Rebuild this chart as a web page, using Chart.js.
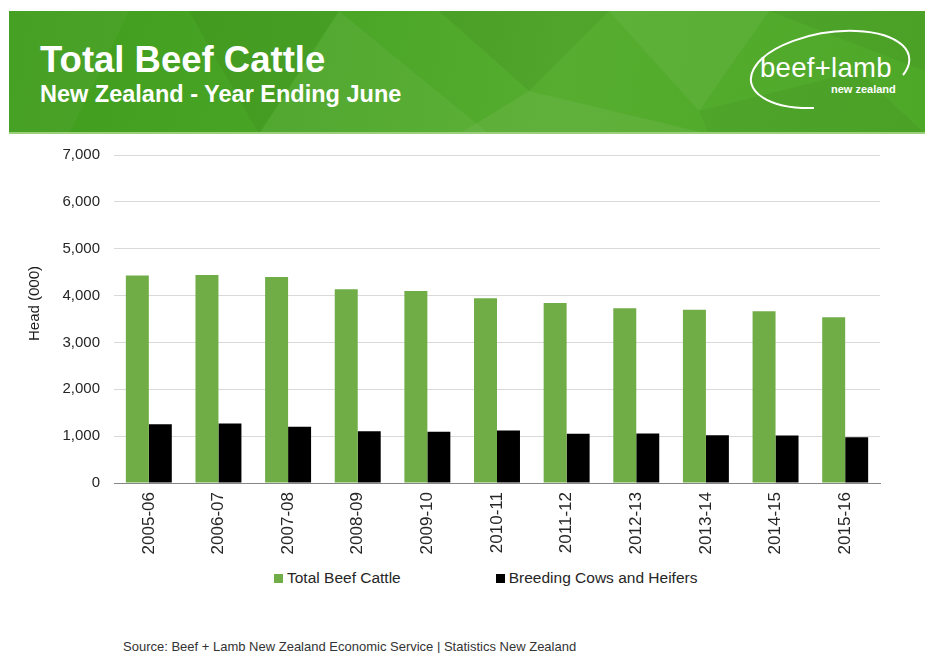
<!DOCTYPE html>
<html>
<head>
<meta charset="utf-8">
<script src="https://cdn.jsdelivr.net/npm/chart.js@4.4.1/dist/chart.umd.min.js"></script>
<style>
  body { margin: 0; background: #fff; font-family: "Liberation Sans", Arial, sans-serif; }
  #page { position: relative; width: 925px; height: 653px; overflow: hidden; }
  #banner { position: absolute; left: 9px; top: 11px; width: 916px; height: 123px;
    background: linear-gradient(100deg, #3f9d1c 0%, #4aa526 35%, #56ad2f 60%, #4ea828 100%); overflow: hidden; }
  #banner svg { position: absolute; left: 0; top: 0; }
  #banner .strip { position: absolute; left: 0; bottom: 0; width: 100%; height: 2px; background: #9ccf7c; }
  #title { position: absolute; left: 31px; top: 28px; color: #fff; font-weight: bold; font-size: 36.5px; line-height: 42px; }
  #subtitle { position: absolute; left: 31px; top: 70px; color: #fff; font-weight: bold; font-size: 23.5px; line-height: 26px; }
  #logoText { position: absolute; left: 751px; top: 42px; color: #fff; font-size: 27.5px; line-height: 30px; letter-spacing: 0.3px; }
  #logoSub { position: absolute; left: 822px; top: 72px; color: #fff; font-size: 11px; font-weight: bold; line-height: 12px; }
  #chartBox { position: absolute; left: 0; top: 132px; width: 925px; height: 428px; }
  #yTitle { position: absolute; left: 25px; top: 266px; writing-mode: vertical-rl; transform: rotate(180deg);
    font-size: 15px; font-weight: normal; color: #1a1a1a; white-space: nowrap; }
  #legend { position: absolute; left: 274px; top: 569px; display: flex; gap: 95px; font-size: 15.5px; color: #262626; }
  #legend .item { display: flex; align-items: center; }
  #legend .box { width: 9px; height: 9px; margin-right: 4px; }
  #source { position: absolute; left: 123px; top: 639px; font-size: 13px; color: #333; }
</style>
</head>
<body>
<div id="page">
  <div id="banner">
    <svg width="916" height="123">
      <polygon points="0,0 120,0 60,123 0,123" fill="#ffffff" opacity="0.04"/>
      <polygon points="180,0 330,0 250,123" fill="#000000" opacity="0.04"/>
      <polygon points="330,0 480,123 250,123" fill="#ffffff" opacity="0.05"/>
      <polygon points="430,0 600,0 520,80" fill="#000000" opacity="0.05"/>
      <polygon points="520,80 700,123 450,123" fill="#ffffff" opacity="0.06"/>
      <polygon points="600,0 760,0 690,100" fill="#ffffff" opacity="0.05"/>
      <polygon points="760,0 916,0 916,60" fill="#000000" opacity="0.04"/>
      <polygon points="690,100 850,60 916,123 700,123" fill="#000000" opacity="0.04"/>
      <path d="M 805 97 A 80 37 -9 1 1 894 64" fill="none" stroke="#ffffff" stroke-width="2"/>
    </svg>
    <div class="strip"></div>
    <div id="title">Total Beef Cattle</div>
    <div id="subtitle">New Zealand - Year Ending June</div>
    <div id="logoText">beef+lamb</div>
    <div id="logoSub">new zealand</div>
  </div>
  <div id="chartBox"><canvas id="myChart"></canvas></div>
  <div id="yTitle">Head (000)</div>
  <div id="legend"></div>
  <div id="source">Source: Beef + Lamb New Zealand Economic Service | Statistics New Zealand</div>
</div>
<script>
// year ending June
var seasons = ['2005-06', '2006-07', '2007-08', '2008-09', '2009-10', '2010-11', '2011-12', '2012-13', '2013-14', '2014-15', '2015-16'];
// head (000)
var totalBeef = [4426, 4440, 4398, 4134, 4100, 3943, 3844, 3730, 3695, 3667, 3539];
var breedingCows = [1255, 1270, 1198, 1106, 1092, 1121, 1050, 1057, 1021, 1014, 979];
var yMin = 0;
var yMax = 7000;
var yStep = 1000;

Chart.defaults.font.family = '"Liberation Sans", Arial, sans-serif';
Chart.defaults.font.size = 15;
Chart.defaults.color = '#262626';

var ctx = document.getElementById('myChart').getContext('2d');
var chart = new Chart(ctx, {
    type: 'bar',
    data: {
        labels: seasons,
        datasets: [{
            label: 'Total Beef Cattle',
            backgroundColor: '#70ad47',
            data: totalBeef
        }, {
            label: 'Breeding Cows and Heifers',
            backgroundColor: '#000000',
            data: breedingCows
        }]
    },
    options: {
        responsive: true,
        maintainAspectRatio: false,
        animation: false,
        layout: { padding: { left: 18, right: 45, top: 5, bottom: 0 } },
        datasets: { bar: { categoryPercentage: 0.66, barPercentage: 1.0 } },
        plugins: { legend: { display: false }, tooltip: { enabled: false } },
        scales: {
            x: {
                grid: { display: false, drawTicks: false },
                border: { color: '#868686', width: 1 },
                ticks: { minRotation: 90, maxRotation: 90, padding: 9, font: { size: 17 } },
                afterFit: function(scale) { scale.height = 77; }
            },
            y: {
                min: yMin,
                max: yMax,
                grid: { color: '#d9d9d9', drawTicks: false },
                border: { display: false },
                ticks: {
                    stepSize: yStep,
                    padding: 14,
                    callback: function(v) { return v.toLocaleString('en-US'); }
                },
                afterFit: function(scale) { scale.width = 96; }
            }
        }
    }
});

// legend built from the datasets
var legendDiv = document.getElementById('legend');
chart.data.datasets.forEach(function(ds) {
    var item = document.createElement('div');
    item.className = 'item';
    var box = document.createElement('span');
    box.className = 'box';
    box.style.background = ds.backgroundColor;
    var txt = document.createElement('span');
    txt.textContent = ds.label;
    item.appendChild(box);
    item.appendChild(txt);
    legendDiv.appendChild(item);
});
</script>
</body>
</html>
